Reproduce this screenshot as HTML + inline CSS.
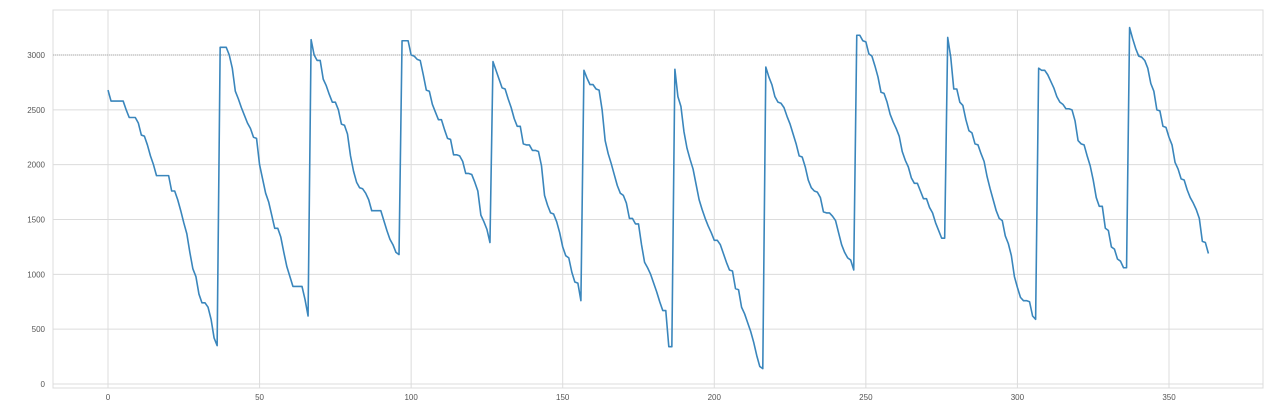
<!DOCTYPE html>
<html><head><meta charset="utf-8"><style>
html,body{margin:0;padding:0;background:#fff;}
svg{display:block;font-family:"Liberation Sans",sans-serif;}
</style></head><body>
<svg id="chart" width="1280" height="412"></svg>
<script>
const xTicks=[0,50,100,150,200,250,300,350];
const yTicks=[0,500,1000,1500,2000,2500,3000];
const refLine=[3000];
const values=[
2680,2580,2580,2580,2580,2580,2500,2430,2430,2430,2380,2270,2260,2180,2080,2000,1900,1900,1900,1900,1900,1760,1760,1680,1580,1470,1370,1200,1050,980,820,740,740,700,590,420,350,
3070,3070,3070,3000,2880,2670,2600,2520,2450,2380,2330,2250,2240,2000,1870,1740,1660,1540,1420,1420,1340,1200,1070,980,890,890,890,890,770,620,
3140,3000,2950,2950,2780,2720,2640,2570,2570,2500,2370,2360,2280,2080,1940,1840,1790,1780,1740,1680,1580,1580,1580,1580,1490,1400,1320,1270,1200,1180,
3130,3130,3130,3000,2990,2960,2950,2820,2680,2670,2550,2480,2410,2410,2320,2240,2230,2090,2090,2080,2030,1920,1920,1910,1840,1760,1540,1480,1410,1290,
2940,2860,2780,2700,2690,2600,2520,2420,2350,2350,2190,2180,2180,2130,2130,2120,1990,1720,1630,1560,1550,1480,1380,1250,1170,1150,1020,930,920,760,
2860,2790,2730,2730,2690,2680,2500,2220,2100,2010,1910,1810,1740,1720,1650,1510,1510,1460,1460,1270,1110,1060,1000,920,840,750,670,670,340,340,
2870,2620,2530,2300,2150,2050,1960,1820,1680,1590,1510,1440,1380,1310,1310,1270,1190,1110,1040,1030,870,860,700,640,560,480,380,260,160,140,
2890,2800,2730,2620,2570,2560,2520,2440,2370,2280,2190,2080,2070,1980,1860,1790,1760,1750,1700,1570,1560,1560,1530,1490,1380,1270,1200,1150,1130,1040,
3180,3180,3130,3120,3010,2990,2900,2800,2660,2650,2570,2460,2390,2330,2260,2120,2040,1980,1880,1830,1830,1760,1690,1690,1610,1560,1470,1400,1330,1330,
3160,2980,2690,2690,2570,2540,2410,2310,2290,2190,2180,2100,2030,1890,1780,1680,1580,1510,1490,1350,1280,1170,980,880,790,760,760,750,620,590,
2880,2860,2860,2820,2760,2700,2620,2570,2550,2510,2510,2500,2400,2220,2190,2180,2080,1990,1860,1700,1620,1620,1420,1400,1250,1230,1140,1120,1060,1060,
3250,3150,3060,2990,2980,2950,2880,2740,2670,2500,2490,2350,2340,2250,2180,2020,1960,1870,1860,1770,1700,1650,1590,1510,1300,1290,1190
];
const NS="http://www.w3.org/2000/svg";
const svg=document.getElementById('chart');
const L=53,R=1263,T=10,B=388;
const xs=v=>108+v*(1169-108)/350;
const ys=v=>384-v*(384-55)/3000;
function mk(tag,attrs,parent){const e=document.createElementNS(NS,tag);for(const k in attrs)e.setAttribute(k,attrs[k]);(parent||svg).appendChild(e);return e;}
const frame=mk('rect',{x:L,y:T,width:R-L,height:B-T,fill:'#fff',stroke:'#dcdcdc','stroke-width':1});


xTicks.forEach(t=>{
  const g=mk('line',{x1:xs(t),x2:xs(t),y1:T,y2:B,stroke:'#dcdcdc','stroke-width':1});
  
  
  const tx=mk('text',{x:xs(t),y:400,'text-anchor':'middle','font-size':8,fill:'#555'});
  tx.textContent=t;
  
  
});
yTicks.forEach(t=>{
  const g=mk('line',{x1:L,x2:R,y1:ys(t),y2:ys(t),stroke:'#dcdcdc','stroke-width':1});
  
  
  const tx=mk('text',{x:45,y:ys(t)+3,'text-anchor':'end','font-size':8,fill:'#555'});
  tx.textContent=t;
  
  
});
refLine.forEach(v=>{
  const r=mk('line',{x1:L,x2:R,y1:ys(v),y2:ys(v),stroke:'#aaa','stroke-width':1,'stroke-dasharray':'1,1'});
  
  
});
const d=values.map((v,i)=>(i?'L':'M')+xs(i).toFixed(2)+','+ys(v).toFixed(2)).join('');
const p=mk('path',{d:d,fill:'none',stroke:'#3a86bc','stroke-width':1.6,'stroke-linejoin':'round'});


</script>
</body></html>
